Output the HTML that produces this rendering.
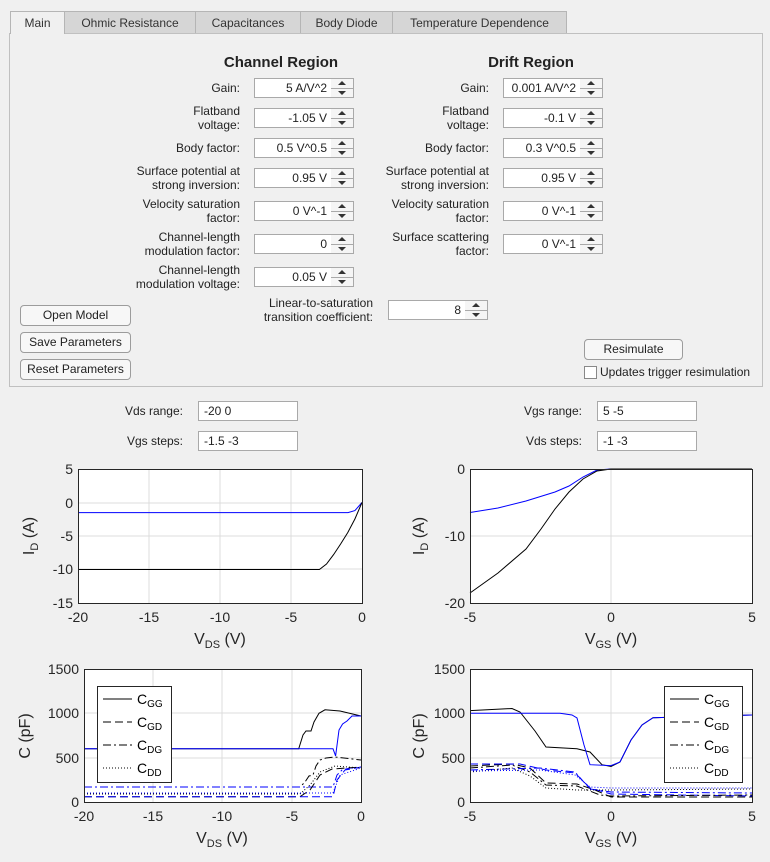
<!DOCTYPE html>
<html><head><meta charset="utf-8"><style>
body{margin:0;width:770px;height:862px;background:#f0f0f0;font-family:"Liberation Sans",sans-serif;font-size:12px;color:#222;position:relative;overflow:hidden}
.a{position:absolute}
.tab{position:absolute;top:11px;height:22px;line-height:22px;background:#d6d6d6;border:1px solid #b5b5b5;border-bottom:none;text-align:center;font-size:12px;color:#333;box-sizing:border-box}
.lbl{position:absolute;text-align:right;line-height:14px}
.in{position:absolute;height:20px;background:#fff;border:1px solid #a9a9a9;box-sizing:border-box;text-align:right;padding-right:4px;line-height:18px}
.sp{position:absolute;width:23px;height:20px;border:1px solid #a9a9a9;border-left:none;box-sizing:border-box;background:#f5f5f5}
.sp:after{content:"";position:absolute;left:0;right:0;top:9px;border-top:1px solid #a9a9a9}
.sp:before{content:"";position:absolute;left:7px;top:2px;border-left:4px solid transparent;border-right:4px solid transparent;border-bottom:4px solid #333}
.sp i{position:absolute;left:7px;top:12px;border-left:4px solid transparent;border-right:4px solid transparent;border-top:4px solid #333}
.btn{position:absolute;height:21px;border:1px solid #9c9c9c;border-radius:4px;background:#f7f7f7;box-sizing:border-box;text-align:center;line-height:19px}
h3{position:absolute;margin:0;font-size:15px;font-weight:bold;text-align:center;width:200px}
</style></head><body>
<div class="a" style="left:9px;top:33px;width:754px;height:354px;border:1px solid #c0c0c0;box-sizing:border-box"></div>
<div class="tab" style="left:10px;width:55px;background:#f0f0f0;height:23px">Main</div>
<div class="tab" style="left:64px;width:132px">Ohmic Resistance</div>
<div class="tab" style="left:195px;width:106px">Capacitances</div>
<div class="tab" style="left:300px;width:93px">Body Diode</div>
<div class="tab" style="left:392px;width:175px">Temperature Dependence</div>
<h3 style="left:181px;top:54px">Channel Region</h3>
<h3 style="left:431px;top:54px">Drift Region</h3>

<div class="lbl" style="left:60px;width:180px;top:81px">Gain:</div>
<div class="lbl" style="left:60px;width:180px;top:104px">Flatband<br>voltage:</div>
<div class="lbl" style="left:60px;width:180px;top:141px">Body factor:</div>
<div class="lbl" style="left:60px;width:180px;top:164px">Surface potential at<br>strong inversion:</div>
<div class="lbl" style="left:60px;width:180px;top:197px">Velocity saturation<br>factor:</div>
<div class="lbl" style="left:60px;width:180px;top:230px">Channel-length<br>modulation factor:</div>
<div class="lbl" style="left:60px;width:180px;top:263px">Channel-length<br>modulation voltage:</div>

<div class="in" style="left:254px;width:78px;top:78px">5 A/V^2</div><div class="sp" style="left:331px;top:78px"><i></i></div>
<div class="in" style="left:254px;width:78px;top:108px">-1.05 V</div><div class="sp" style="left:331px;top:108px"><i></i></div>
<div class="in" style="left:254px;width:78px;top:138px">0.5 V^0.5</div><div class="sp" style="left:331px;top:138px"><i></i></div>
<div class="in" style="left:254px;width:78px;top:168px">0.95 V</div><div class="sp" style="left:331px;top:168px"><i></i></div>
<div class="in" style="left:254px;width:78px;top:201px">0 V^-1</div><div class="sp" style="left:331px;top:201px"><i></i></div>
<div class="in" style="left:254px;width:78px;top:234px">0</div><div class="sp" style="left:331px;top:234px"><i></i></div>
<div class="in" style="left:254px;width:78px;top:267px">0.05 V</div><div class="sp" style="left:331px;top:267px"><i></i></div>

<div class="lbl" style="left:309px;width:180px;top:81px">Gain:</div>
<div class="lbl" style="left:309px;width:180px;top:104px">Flatband<br>voltage:</div>
<div class="lbl" style="left:309px;width:180px;top:141px">Body factor:</div>
<div class="lbl" style="left:309px;width:180px;top:164px">Surface potential at<br>strong inversion:</div>
<div class="lbl" style="left:309px;width:180px;top:197px">Velocity saturation<br>factor:</div>
<div class="lbl" style="left:309px;width:180px;top:230px">Surface scattering<br>factor:</div>
<div class="in" style="left:503px;width:78px;top:78px">0.001 A/V^2</div><div class="sp" style="left:580px;top:78px"><i></i></div>
<div class="in" style="left:503px;width:78px;top:108px">-0.1 V</div><div class="sp" style="left:580px;top:108px"><i></i></div>
<div class="in" style="left:503px;width:78px;top:138px">0.3 V^0.5</div><div class="sp" style="left:580px;top:138px"><i></i></div>
<div class="in" style="left:503px;width:78px;top:168px">0.95 V</div><div class="sp" style="left:580px;top:168px"><i></i></div>
<div class="in" style="left:503px;width:78px;top:201px">0 V^-1</div><div class="sp" style="left:580px;top:201px"><i></i></div>
<div class="in" style="left:503px;width:78px;top:234px">0 V^-1</div><div class="sp" style="left:580px;top:234px"><i></i></div>

<div class="lbl" style="left:173px;width:200px;top:296px">Linear-to-saturation<br>transition coefficient:</div>
<div class="in" style="left:388px;width:78px;top:300px">8</div><div class="sp" style="left:465px;top:300px"><i></i></div>

<div class="btn" style="left:20px;top:305px;width:111px">Open Model</div>
<div class="btn" style="left:20px;top:332px;width:111px">Save Parameters</div>
<div class="btn" style="left:20px;top:359px;width:111px">Reset Parameters</div>
<div class="btn" style="left:584px;top:339px;width:99px">Resimulate</div>
<div class="a" style="left:584px;top:366px;width:13px;height:13px;border:1px solid #888;background:#fff;box-sizing:border-box"></div>
<div class="a" style="left:600px;top:365px">Updates trigger resimulation</div>

<div class="lbl" style="left:83px;width:100px;top:404px">Vds range:</div>
<div class="in" style="left:198px;width:100px;top:401px;text-align:left;padding-left:5px">-20 0</div>
<div class="lbl" style="left:83px;width:100px;top:434px">Vgs steps:</div>
<div class="in" style="left:198px;width:100px;top:431px;text-align:left;padding-left:5px">-1.5 -3</div>
<div class="lbl" style="left:482px;width:100px;top:404px">Vgs range:</div>
<div class="in" style="left:597px;width:100px;top:401px;text-align:left;padding-left:5px">5 -5</div>
<div class="lbl" style="left:482px;width:100px;top:434px">Vds steps:</div>
<div class="in" style="left:597px;width:100px;top:431px;text-align:left;padding-left:5px">-1 -3</div>

<svg class="a" style="left:0;top:0" width="770" height="862" font-family="Liberation Sans,sans-serif" fill="none">
<g stroke="#dcdcdc" stroke-width="1">
<rect x="78" y="469" width="284" height="134" fill="#fff" stroke="none"/>
<path d="M149 469V603M220 469V603M291 469V603M78 503H362M78 536H362M78 569H362"/>
<rect x="470" y="469" width="282" height="134" fill="#fff" stroke="none"/>
<path d="M611 469V603M470 536H752"/>
<rect x="84" y="669" width="277" height="133" fill="#fff" stroke="none"/>
<path d="M153 669V802M222 669V802M292 669V802M84 713H361M84 758H361"/>
<rect x="470" y="669" width="282" height="133" fill="#fff" stroke="none"/>
<path d="M611 669V802M470 713H752M470 758H752"/>
</g>
<path d="M78 512.6H348L354.9 510.6L362 502.5" stroke="#00f"/>
<path d="M78 569.5H319.4L326.5 564L333.6 554.6L340.7 543.9L347.8 532.5L354.9 519L362 502.5" stroke="#000"/>
<path d="M470 512.5L498 508L526 501L555 492L569 486L583 477L597 470L611 469H752" stroke="#00f"/>
<path d="M470 593L498 573L526 549L541 529L555 509L569 492L583 479L597 471L611 469H752" stroke="#000"/>
<path d="M84 748.8H298.7L303 735L306 731H311L314 722L319 713.3L325 709.8L340 711L361 716" stroke="#000"/>
<path d="M84 748.8H333L335.6 755.9L339 730L342.6 724L347 721L352 716L361 716" stroke="#00f"/>
<path d="M84 787H300L305 782L309 776L313 775L316 766L320 760L326 758L335 757L361 760" stroke="#000" stroke-dasharray="8 3 2 3"/>
<path d="M84 787H333L337 775L342 770L350 768L361 768" stroke="#00f" stroke-dasharray="8 3 2 3"/>
<path d="M84 796.7H300L310 790L320 775L332 769L361 767" stroke="#000" stroke-dasharray="8 4"/>
<path d="M84 796.7H333L337 780L345 770L361 767" stroke="#00f" stroke-dasharray="8 4"/>
<path d="M84 794H300L310 785L320 772L335 766L361 768" stroke="#000" stroke-dasharray="1 2"/>
<path d="M84 793H333L340 775L361 768" stroke="#00f" stroke-dasharray="1 2"/>
<path d="M470 710.6L512 708.5L520 712L535 731L546 747L577 748.8L590 752L602 764.7L611 766.5L620 762L631 740L642 725L653 717.7L752 715" stroke="#000"/>
<path d="M470 713.3L560 713.3L572 715L577 718L584 745L590 764.7L611 765.6L620 762L631 740L642 725L653 717.7L752 715" stroke="#00f"/>
<path d="M470 766L512 764L530 768L546 783L577 784L595 790L611 797L752 797" stroke="#000" stroke-dasharray="8 4"/>
<path d="M470 764L520 764L546 770L575 773L590 788L611 794L752 796" stroke="#00f" stroke-dasharray="8 4"/>
<path d="M470 768L512 765L530 772L546 785L577 786L600 795L611 796L752 795" stroke="#000" stroke-dasharray="8 3 2 3"/>
<path d="M470 770L540 768L575 772L590 789L611 792L752 793" stroke="#00f" stroke-dasharray="8 3 2 3"/>
<path d="M470 772L512 768L530 776L546 788L577 790L611 790L752 789" stroke="#000" stroke-dasharray="1 2"/>
<path d="M470 771L540 770L575 775L590 787L611 788L752 788" stroke="#00f" stroke-dasharray="1 2"/>
<g stroke="#262626" stroke-width="1">
<rect x="78.5" y="469.5" width="284" height="134"/>
<rect x="470.5" y="469.5" width="282" height="134"/>
<rect x="84.5" y="669.5" width="277" height="133"/>
<rect x="470.5" y="669.5" width="282" height="133"/>
</g>
<g fill="#262626" font-size="14" text-anchor="end">
<text x="73" y="474">5</text><text x="73" y="508">0</text><text x="73" y="541">-5</text><text x="73" y="574">-10</text><text x="73" y="608">-15</text>
<text x="465" y="474">0</text><text x="465" y="541">-10</text><text x="465" y="608">-20</text>
<text x="79" y="674">1500</text><text x="79" y="718">1000</text><text x="79" y="763">500</text><text x="79" y="807">0</text>
<text x="465" y="674">1500</text><text x="465" y="718">1000</text><text x="465" y="763">500</text><text x="465" y="807">0</text>
</g>
<g fill="#262626" font-size="14" text-anchor="middle">
<text x="78" y="622">-20</text><text x="149" y="622">-15</text><text x="220" y="622">-10</text><text x="291" y="622">-5</text><text x="362" y="622">0</text>
<text x="470" y="622">-5</text><text x="611" y="622">0</text><text x="752" y="622">5</text>
<text x="84" y="821">-20</text><text x="153" y="821">-15</text><text x="222" y="821">-10</text><text x="292" y="821">-5</text><text x="361" y="821">0</text>
<text x="470" y="821">-5</text><text x="611" y="821">0</text><text x="752" y="821">5</text>
<g font-size="16">
<text x="220" y="644">V<tspan font-size="11" dy="4">DS</tspan><tspan dy="-4">  (V)</tspan></text>
<text x="611" y="644">V<tspan font-size="11" dy="4">GS</tspan><tspan dy="-4">  (V)</tspan></text>
<text x="222" y="843">V<tspan font-size="11" dy="4">DS</tspan><tspan dy="-4">  (V)</tspan></text>
<text x="611" y="843">V<tspan font-size="11" dy="4">GS</tspan><tspan dy="-4">  (V)</tspan></text>
<text transform="translate(34 536) rotate(-90)">I<tspan font-size="11" dy="4">D</tspan><tspan dy="-4">  (A)</tspan></text>
<text transform="translate(424 536) rotate(-90)">I<tspan font-size="11" dy="4">D</tspan><tspan dy="-4">  (A)</tspan></text>
<text transform="translate(30 736) rotate(-90)">C (pF)</text>
<text transform="translate(424 736) rotate(-90)">C (pF)</text>
</g></g>
<g>
<rect x="97.5" y="686.5" width="74" height="96" fill="#fff" stroke="#262626"/>
<path d="M103 699H132" stroke="#000"/><path d="M103 722H132" stroke="#000" stroke-dasharray="8 4"/>
<path d="M103 745H132" stroke="#000" stroke-dasharray="8 3 2 3"/><path d="M103 768H132" stroke="#000" stroke-dasharray="1 2"/>
<g fill="#000" font-size="14"><text x="137" y="704">C<tspan font-size="10" dy="3">GG</tspan></text><text x="137" y="727">C<tspan font-size="10" dy="3">GD</tspan></text><text x="137" y="750">C<tspan font-size="10" dy="3">DG</tspan></text><text x="137" y="773">C<tspan font-size="10" dy="3">DD</tspan></text></g>
<rect x="664.5" y="686.5" width="78" height="96" fill="#fff" stroke="#262626"/>
<path d="M670 699H699" stroke="#000"/><path d="M670 722H699" stroke="#000" stroke-dasharray="8 4"/>
<path d="M670 745H699" stroke="#000" stroke-dasharray="8 3 2 3"/><path d="M670 768H699" stroke="#000" stroke-dasharray="1 2"/>
<g fill="#000" font-size="14"><text x="704" y="704">C<tspan font-size="10" dy="3">GG</tspan></text><text x="704" y="727">C<tspan font-size="10" dy="3">GD</tspan></text><text x="704" y="750">C<tspan font-size="10" dy="3">DG</tspan></text><text x="704" y="773">C<tspan font-size="10" dy="3">DD</tspan></text></g>
</g>
</svg>
</body></html>
